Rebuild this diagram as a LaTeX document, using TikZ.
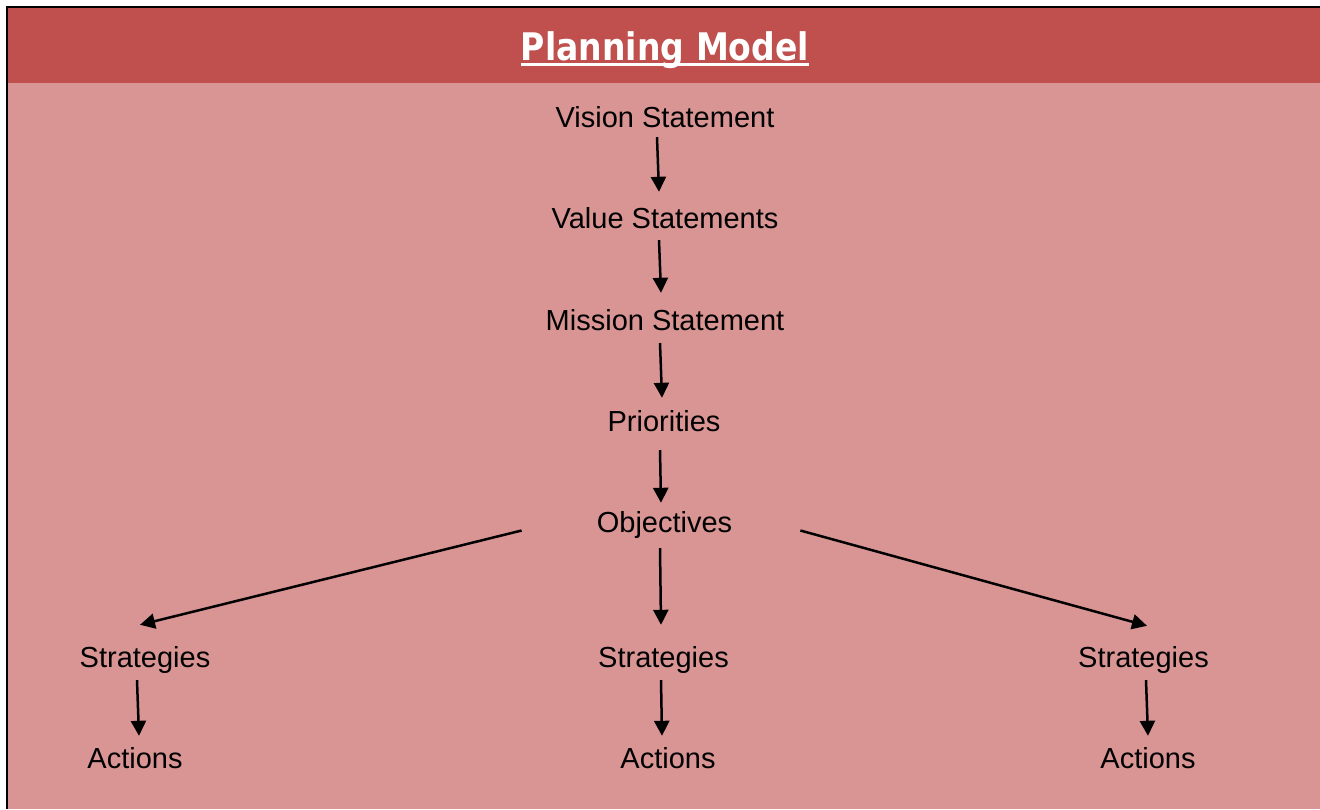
\documentclass[tikz,border=0pt]{standalone}
\usepackage{fontspec}
\setmainfont{Liberation Sans}
\newfontfamily\titlefont[FakeStretch=0.87]{DejaVu Sans}
\usetikzlibrary{arrows.meta}

\definecolor{headred}{HTML}{C0504D}
\definecolor{bodyred}{HTML}{D99594}

\begin{document}
\begin{tikzpicture}[x=1pt,y=-1pt,
    step label/.style={font=\fontsize{29}{35}\selectfont,anchor=base,
      text height=21pt,text depth=6pt,inner sep=4pt},
    flow/.style={line width=2.5pt,-{Triangle[length=15pt,width=15pt]}}]
    \useasboundingbox (0,0) rectangle (1320,809);
    %% Frame, title band and body
    \fill[bodyred] (7,83) rectangle (1320,809);
    \fill[headred] (7,7) rectangle (1320,83);
    \draw[line width=2.5pt] (1320,7) -- (7,7) -- (7,809);
    % Title
    \node at (665,60) [anchor=base,inner sep=0pt,text=white,
      font=\titlefont\bfseries\fontsize{38}{42}\selectfont] (title) {Planning Model};
    \draw[white,line width=3pt] ([yshift=-4pt]title.base west) -- ([yshift=-4pt]title.base east);
    % Chain down the middle
    \node at (665,127) [step label] (vision) {Vision Statement};
    \node at (665,228) [step label] (value) {Value Statements};
    \node at (665,330) [step label] (mission) {Mission Statement};
    \node at (664,431) [step label] (prio) {Priorities};
    \node at (664.5,532) [step label] (obj) {Objectives};
    % Three branches
    \node at (145,667) [step label] (strat1) {Strategies};
    \node at (663.5,667) [step label] (strat2) {Strategies};
    \node at (1143.5,667) [step label] (strat3) {Strategies};
    \node at (135,768) [step label] (act1) {Actions};
    \node at (668,768) [step label] (act2) {Actions};
    \node at (1148,768) [step label] (act3) {Actions};

    \path
    ([xshift=-8pt]vision.south) edge [flow] ([xshift=-6pt,yshift=11pt]value.north)
    ([xshift=-6pt,yshift=-2pt]value.south) edge [flow] ([xshift=-4pt,yshift=12pt]mission.north)
    ([xshift=-5pt,yshift=-3pt]mission.south) edge [flow] ([xshift=-2pt,yshift=8pt]prio.north)
    ([xshift=-4pt,yshift=-9pt]prio.south) edge [flow] ([xshift=-3.5pt,yshift=4pt]obj.north)
    ([xshift=-4.5pt,yshift=-6pt]obj.south) edge [flow] ([xshift=-2.5pt,yshift=17pt]strat2.north)
    ([xshift=-71pt,yshift=-6pt]obj.west) edge [flow] ([xshift=-5pt,yshift=17pt]strat1.north)
    ([xshift=64pt,yshift=-6pt]obj.east) edge [flow] ([xshift=3.5pt,yshift=16pt]strat3.north)
    ([xshift=-8pt,yshift=-3pt]strat1.south) edge [flow] ([xshift=4pt,yshift=7pt]act1.north)
    ([xshift=-2.5pt,yshift=-3pt]strat2.south) edge [flow] ([xshift=-6pt,yshift=7pt]act2.north)
    ([xshift=2.5pt,yshift=-3pt]strat3.south) edge [flow] ([yshift=7pt]act3.north);
\end{tikzpicture}
\end{document}
